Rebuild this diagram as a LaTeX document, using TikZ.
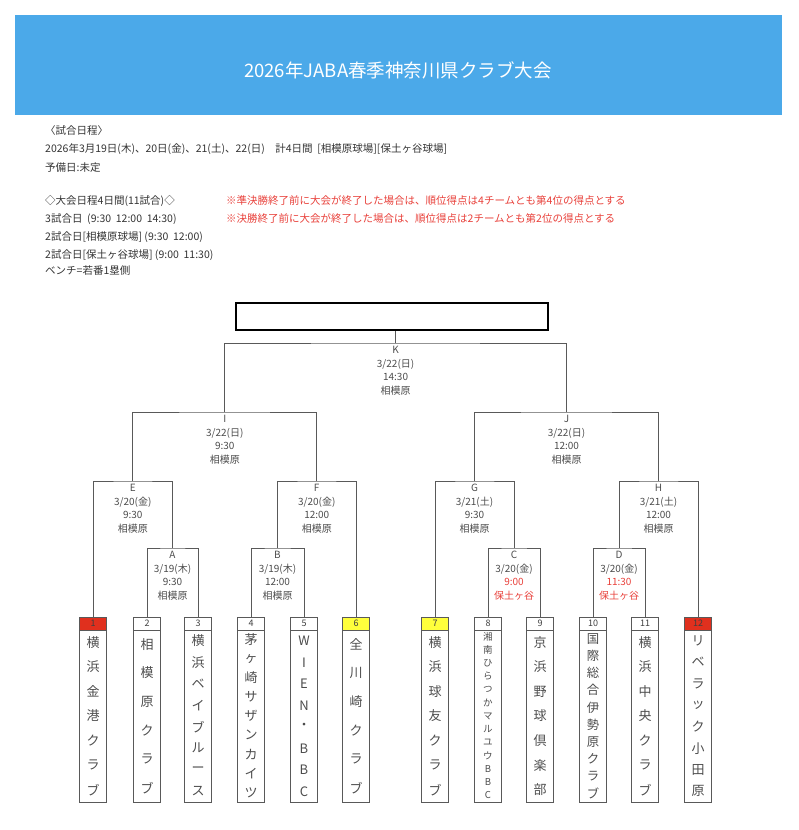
\documentclass[tikz,border=0pt]{standalone}
\usepackage{fontspec}
\setmainfont{Noto Sans CJK JP}
\begin{document}
\begin{tikzpicture}[x=1pt,y=-1pt,
  ln/.style={line width=0.8pt,draw=black!65},
  lab/.style={anchor=north,align=center,text=black!70,font=\fontsize{10}{13.5}\selectfont,inner sep=0pt},
  info/.style={anchor=west,inner sep=0pt,text=black!80,font=\fontsize{10.5}{12}\selectfont}]
\useasboundingbox (0,0) rectangle (798,830);
\definecolor{hdr}{HTML}{4BA9E9}
\definecolor{tred}{HTML}{E0301E}
\definecolor{tyel}{HTML}{FFFF3C}
\definecolor{rtx}{HTML}{E8403A}
\fill[hdr] (15,15) rectangle (782,115);
\node[text=white,font=\fontsize{18.5}{20}\selectfont] (title) at (398,70) {2026年JABA春季神奈川県クラブ大会};
\node[info] (l1) at (45,131) {〈試合日程〉};
\node[info] (l2) at (45,149) {2026年3月19日(木)、20日(金)、21(土)、22(日)\quad 計4日間\ \ [相模原球場][保土ヶ谷球場]};
\node[info] (l3) at (45,168) {予備日:未定};
\node[info] (l4) at (45,201) {◇大会日程4日間(11試合)◇};
\node[info,text=rtx] (r1) at (226,201) {※準決勝終了前に大会が終了した場合は、順位得点は4チームとも第4位の得点とする};
\node[info] (l5) at (45,219) {3試合日\ \ (9:30\ \ 12:00\ \ 14:30)};
\node[info,text=rtx] (r2) at (226,219) {※決勝終了前に大会が終了した場合は、順位得点は2チームとも第2位の得点とする};
\node[info] (l6) at (45,237) {2試合日[相模原球場]\ (9:30\ \ 12:00)};
\node[info] (l7) at (45,255) {2試合日[保土ヶ谷球場]\ (9:00\ \ 11:30)};
\node[info] (l8) at (45,271) {ベンチ=若番1塁側};
% champion box
\node[draw,line width=1.6pt,minimum width=312pt,minimum height=27pt,inner sep=0pt] (champ) at (392,316.5) {};
% teams
\newcommand\team[5]{% name, x, number, fill, chars
  \node[draw=black!65,line width=0.8pt,minimum width=27pt,minimum height=185pt,anchor=north,inner sep=0pt] (#1) at (#2,617) {};
  \fill[#4] (#2-13.5,617) rectangle (#2+13.5,630);
  \draw[ln] (#2-13.5,617) rectangle (#2+13.5,802) (#2-13.5,630) -- (#2+13.5,630);
  \node[font=\fontsize{9}{9}\selectfont,text=black!75,inner sep=0pt] at (#2,623.5) {#3};
  \foreach \c [count=\k] in {#5} {\global\let\nn\k}
  \pgfmathsetmacro\fs{min(13,172/\nn*0.72)}
  \foreach \c [count=\k] in {#5} {
    \node[inner sep=0pt,text=black!70,font=\fontsize{\fs}{\fs}\selectfont] at (#2,{630+(\k-0.5)*172/\nn}) {\c};}
}
\team{T1}{93}{1}{tred}{横,浜,金,港,ク,ラ,ブ}
\team{T2}{147}{2}{white}{相,模,原,ク,ラ,ブ}
\team{T3}{198}{3}{white}{横,浜,ベ,イ,ブ,ル,ー,ス}
\team{T4}{251}{4}{white}{茅,ヶ,崎,サ,ザ,ン,カ,イ,ツ}
\team{T5}{304}{5}{white}{W,I,E,N,・,B,B,C}
\team{T6}{356}{6}{tyel}{全,川,崎,ク,ラ,ブ}
\team{T7}{435}{7}{tyel}{横,浜,球,友,ク,ラ,ブ}
\team{T8}{488}{8}{white}{湘,南,ひ,ら,つ,か,マ,ル,ユ,ウ,B,B,C}
\team{T9}{540}{9}{white}{京,浜,野,球,倶,楽,部}
\team{T10}{593}{10}{white}{国,際,総,合,伊,勢,原,ク,ラ,ブ}
\team{T11}{645}{11}{white}{横,浜,中,央,ク,ラ,ブ}
\team{T12}{698}{12}{tred}{リ,ベ,ラ,ッ,ク,小,田,原}
% match points
\coordinate (A) at (172.5,548); \coordinate (B) at (277.5,548);
\coordinate (C) at (514,548); \coordinate (D) at (619,548);
\coordinate (E) at (132.75,481); \coordinate (F) at (316.75,481);
\coordinate (G) at (474.5,481); \coordinate (H) at (658.5,481);
\coordinate (I) at (224.75,412); \coordinate (J) at (566.5,412);
\coordinate (K) at (395.6,343);
\draw[ln] (T2.north) |- (A) -| (T3.north);
\draw[ln] (T4.north) |- (B) -| (T5.north);
\draw[ln] (T8.north) |- (C) -| (T9.north);
\draw[ln] (T10.north) |- (D) -| (T11.north);
\draw[ln] (T1.north) |- (E) -| (A);
\draw[ln] (B) |- (F) -| (T6.north);
\draw[ln] (T7.north) |- (G) -| (C);
\draw[ln] (D) |- (H) -| (T12.north);
\draw[ln] (E) |- (I) -| (F);
\draw[ln] (G) |- (J) -| (H);
\draw[ln] (I) |- (K) -| (J);
\draw[ln] (K) -- (K |- champ.south);
% labels
\tikzset{lo/.style={yshift=-3pt}}
\node[lab,lo] (lK) at (K) {K\\3/22(日)\\14:30\\相模原};
\node[lab,lo] (lI) at (I) {I\\3/22(日)\\9:30\\相模原};
\node[lab,lo] (lJ) at (J) {J\\3/22(日)\\12:00\\相模原};
\node[lab,lo] (lE) at (E) {E\\3/20(金)\\9:30\\相模原};
\node[lab,lo] (lF) at (F) {F\\3/20(金)\\12:00\\相模原};
\node[lab,lo] (lG) at (G) {G\\3/21(土)\\9:30\\相模原};
\node[lab,lo] (lH) at (H) {H\\3/21(土)\\12:00\\相模原};
\node[lab,lo] (lA) at (A) {A\\3/19(木)\\9:30\\相模原};
\node[lab,lo] (lB) at (B) {B\\3/19(木)\\12:00\\相模原};
\node[lab,lo] (lC) at (C) {C\\3/20(金)\\\textcolor{rtx}{9:00}\\\textcolor{rtx}{保土ヶ谷}};
\node[lab,lo] (lD) at (D) {D\\3/20(金)\\\textcolor{rtx}{11:30}\\\textcolor{rtx}{保土ヶ谷}};
\end{tikzpicture}
\end{document}
